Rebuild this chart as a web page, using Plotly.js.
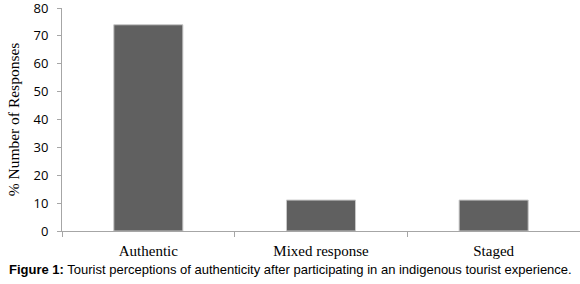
<!DOCTYPE html>
<html>
<head>
<meta charset="utf-8">
<script src="https://cdn.plot.ly/plotly-3.0.1.min.js"></script>
<style>html,body{margin:0;padding:0;background:#fff;}#chart{width:580px;height:284px;}</style>
</head>
<body>
<div id="chart"></div>
<script>
var categories = ["Authentic", "Mixed response", "Staged"];
var values = [74, 11.1, 11.1];
var yTicks = [0, 10, 20, 30, 40, 50, 60, 70, 80];
var yTitle = "% Number of Responses";
var caption = "<b>Figure 1:</b> Tourist perceptions of authenticity after participating in an indigenous tourist experience.";

var trace = {
  type: "bar",
  x: categories,
  y: values,
  marker: {color: "#606060", line: {color: "#c8c8c8", width: 1}},
  hoverinfo: "none"
};

var layout = {
  width: 580,
  height: 284,
  margin: {l: 62, r: 0, t: 8, b: 53, pad: 0},
  paper_bgcolor: "#ffffff",
  plot_bgcolor: "#ffffff",
  showlegend: false,
  bargap: 0.6,
  xaxis: {
    type: "category",
    showline: true,
    linecolor: "#a6a6a6",
    linewidth: 1,
    showgrid: false,
    zeroline: false,
    ticks: "outside",
    tickson: "boundaries",
    ticklen: 5,
    tickcolor: "#a6a6a6",
    tickfont: {family: "Liberation Serif, Times New Roman, serif", size: 15, color: "#000"},
    ticklabelstandoff: 6
  },
  yaxis: {
    range: [0, 80.02],
    tickvals: yTicks,
    showline: true,
    linecolor: "#a6a6a6",
    linewidth: 1,
    showgrid: false,
    zeroline: false,
    ticks: "outside",
    ticklen: 4,
    tickcolor: "#a6a6a6",
    tickfont: {family: "Open Sans, Liberation Sans, sans-serif", size: 13, color: "#000"},
    ticklabelstandoff: 6,
    ticklabeloverflow: "allow",
    title: {text: yTitle, font: {family: "Liberation Serif, Times New Roman, serif", size: 15.5, color: "#000"}, standoff: 10}
  },
  annotations: [{
    text: caption,
    xref: "paper", yref: "paper",
    x: -0.106, y: -0.172,
    xanchor: "left", yanchor: "middle",
    showarrow: false,
    font: {family: "Liberation Sans, Arial, sans-serif", size: 13, color: "#000"}
  }]
};

Plotly.newPlot("chart", [trace], layout, {staticPlot: true, displayModeBar: false});
</script>
</body>
</html>
